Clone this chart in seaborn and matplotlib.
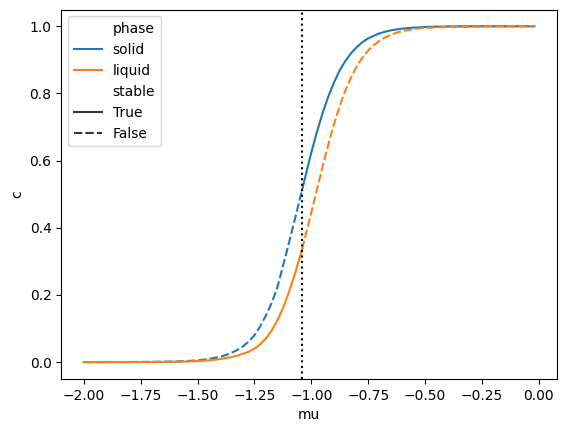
import numpy as np
import pandas as pd
import matplotlib
matplotlib.use("Agg")
import matplotlib.pyplot as plt
import seaborn as sns

# chemical potential grid and concentration of each phase
mu = [-2.0, -1.9, -1.8, -1.7, -1.6, -1.55, -1.5, -1.45, -1.4, -1.375, -1.35, -1.325, -1.3,
      -1.275, -1.25, -1.225, -1.2, -1.175, -1.15, -1.125, -1.1, -1.075, -1.04,
      -1.025, -1.0, -0.975, -0.95, -0.925, -0.9, -0.875, -0.85, -0.825, -0.8,
      -0.775, -0.75, -0.725, -0.7, -0.675, -0.65, -0.625, -0.6, -0.575, -0.55,
      -0.5, -0.45, -0.4, -0.3, -0.2, -0.1, -0.02]

c_solid = [0.0, 0.0001, 0.0002, 0.0006, 0.0016, 0.003, 0.005, 0.009, 0.016, 0.021, 0.028, 0.036, 0.047,
           0.061, 0.08, 0.106, 0.138, 0.175, 0.22, 0.285, 0.35, 0.418, 0.514,
           0.555, 0.624, 0.686, 0.742, 0.791, 0.833, 0.869, 0.897, 0.92, 0.938,
           0.953, 0.964, 0.972, 0.979, 0.984, 0.988, 0.9907, 0.993, 0.9946, 0.996,
           0.998, 0.999, 0.9995, 1.0, 1.0, 1.0, 1.0]

c_liquid = [0.0, 0.0, 0.0001, 0.0003, 0.0009, 0.0016, 0.003, 0.005, 0.009, 0.012, 0.015, 0.019, 0.025,
            0.031, 0.04, 0.053, 0.07, 0.093, 0.123, 0.16, 0.205, 0.256, 0.337,
            0.378, 0.445, 0.514, 0.582, 0.648, 0.709, 0.763, 0.809, 0.848, 0.881,
            0.907, 0.928, 0.944, 0.957, 0.967, 0.975, 0.981, 0.985, 0.989, 0.992,
            0.995, 0.997, 0.998, 0.999, 1.0, 1.0, 1.0]

mu_eq = -1.04   # coexistence point

# Build long table: solid stable above mu_eq, liquid stable below
rows = []
for m, cs, cl in zip(mu, c_solid, c_liquid):
    rows.append({"mu": m, "c": cs, "phase": "solid", "stable": m >= mu_eq})
    rows.append({"mu": m, "c": cl, "phase": "liquid", "stable": m <= mu_eq})
    if m == mu_eq:
        # repeat the switch point so both pieces join up
        rows.append({"mu": m, "c": cs, "phase": "solid", "stable": False})
        rows.append({"mu": m, "c": cl, "phase": "liquid", "stable": False})
df = pd.DataFrame(rows)

fig, ax = plt.subplots(figsize=(5.67, 4.32), dpi=100)
fig.subplots_adjust(left=0.108, right=0.982, top=0.978, bottom=0.123)

sns.lineplot(data=df, x="mu", y="c", hue="phase", style="stable",
             hue_order=["solid", "liquid"], style_order=[True, False], ax=ax)
ax.axvline(mu_eq, color="k", linestyle=":")

fig.savefig("out.png", dpi=100)
